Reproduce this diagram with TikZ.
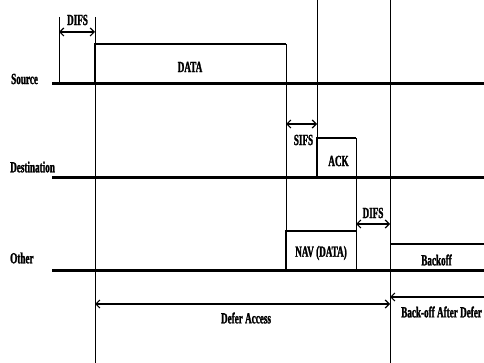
\documentclass[tikz,border=0pt]{standalone}
\usepackage{fontspec}
\newfontfamily\lblfont{Liberation Serif}[FakeStretch=0.59,FakeBold=1.5]
\usetikzlibrary{arrows.meta}

\begin{document}
\begin{tikzpicture}[x=1pt,y=-1pt,>={Straight Barb[length=4pt,width=8pt]},
  lbl/.style={font=\lblfont\bfseries\fontsize{15.5}{16}\selectfont,inner sep=0pt},
  medium/.style={line width=3pt},
  frame/.style={line width=1.5pt},
  tick/.style={line width=0.8pt},
  span/.style={line width=1.2pt}]
  \useasboundingbox (0,0) rectangle (484,363);
  % the three stations
  \draw[medium] (52,84) -- (484,84);
  \draw[medium] (52,178) -- (484,178);
  \draw[medium] (52,270) -- (484,270);
  \node[lbl,anchor=west] (src) at (11,79) {Source};
  \node[lbl,anchor=west] (dst) at (10,167) {Destination};
  \node[lbl,anchor=west] (oth) at (10,258) {Other};
  % time marks
  \draw[tick] (59,17) -- (59,84);
  \draw[tick] (95,17) -- (95,363);
  \draw[tick] (286,44) -- (286,270);
  \draw[tick] (317,0) -- (317,178);
  \draw[tick] (356,138) -- (356,270);
  \draw[tick] (390,0) -- (390,363);
  % frames
  \draw[frame] (95,84) |- (286,44);
  \draw[frame] (317,178) |- (356,138);
  \draw[frame] (286,270) |- (356,231);
  \draw[frame] (390,244) -- (484,244);
  \node[lbl] (data) at (190,67) {DATA};
  \node[lbl] (ack) at (338.5,161) {ACK};
  \node[lbl] (nav) at (321,253) {NAV (DATA)};
  \node[lbl] (bko) at (436.5,260) {Backoff};
  % intervals
  \coordinate (d1a) at (59,32);
  \coordinate (d1b) at (95,32);
  \coordinate (sa) at (286,124);
  \coordinate (sb) at (317,124);
  \coordinate (d2a) at (356,224);
  \coordinate (d2b) at (390,224);
  \coordinate (dfa) at (95,304);
  \coordinate (dfb) at (390,304);
  \coordinate (boa) at (484,297);
  \coordinate (bob) at (390,297);
  \draw[span,<->] (d1a) -- (d1b);
  \node[lbl] (difs1) at (77.5,20) {DIFS};
  \draw[span,<->] (sa) -- (sb);
  \node[lbl] (sifs) at (303.5,140) {SIFS};
  \draw[span,<->] (d2a) -- (d2b);
  \node[lbl] (difs2) at (373,213) {DIFS};
  \draw[span,<->] (dfa) -- (dfb);
  \node[lbl] (defer) at (246,318) {Defer Access};
  \draw[span,->] (boa) -- (bob);
  \node[lbl,anchor=west] (bad) at (401,312) {Back-off After Defer};
\end{tikzpicture}
\end{document}
